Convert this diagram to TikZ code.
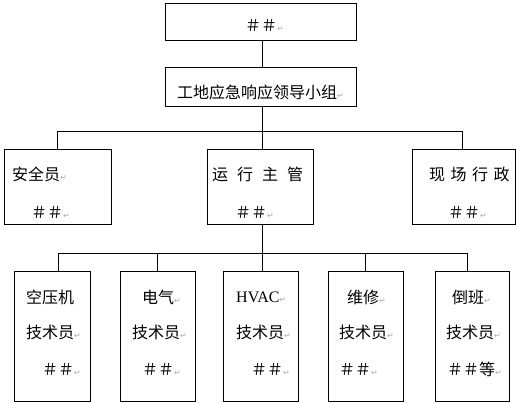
\documentclass[tikz,border=0pt]{standalone}
\usepackage{fontspec}
\setmainfont{Liberation Serif}
\newfontfamily\cjk{Noto Sans CJK SC}
\newfontfamily\symf{DejaVu Sans}
\newcommand{\parmk}{{\symf\fontsize{8}{8}\selectfont\color{gray!65}↵}}
\begin{document}
\begin{tikzpicture}[x=1pt,y=-1pt,
  box/.style={draw=black,line width=0.9pt,inner sep=0pt},
  lbl/.style={anchor=west,inner sep=0pt,font=\cjk\fontsize{16}{16}\selectfont},
  con/.style={draw=black,line width=0.9pt}]
\useasboundingbox (0,0) rectangle (516,403);
% boxes
\node[box,minimum width=191pt,minimum height=37pt] (top) at (260.5,21.5) {};
\node[box,minimum width=191pt,minimum height=39pt] (lead) at (260.5,86.5) {};
\node[box,minimum width=107pt,minimum height=75pt] (safe) at (57.5,186.5) {};
\node[box,minimum width=106pt,minimum height=75pt] (ops) at (260,186.5) {};
\node[box,minimum width=103pt,minimum height=75pt] (adm) at (463.5,186.5) {};
\node[box,minimum width=76pt,minimum height=130pt] (b1) at (52,336) {};
\node[box,minimum width=75pt,minimum height=130pt] (b2) at (157.5,336) {};
\node[box,minimum width=75pt,minimum height=130pt] (b3) at (260.5,336) {};
\node[box,minimum width=75pt,minimum height=130pt] (b4) at (365.5,336) {};
\node[box,minimum width=74pt,minimum height=130pt] (b5) at (472,336) {};
% connectors
\coordinate (bus1) at (262,131);
\coordinate (bus2) at (262,253);
\draw[con] ([xshift=1.5pt]top.south) -- ([xshift=1.5pt]lead.north);
\draw[con] ([xshift=1.5pt]lead.south) -- (bus1);
\draw[con] (safe.north) -- (safe.north |- bus1) -- ([xshift=-1.5pt]adm.north |- bus1) -- ([xshift=-1.5pt]adm.north);
\draw[con] ([xshift=2pt]ops.north) -- ([xshift=2pt]ops.north |- bus1);
\draw[con] ([xshift=2pt]ops.south) -- (bus2);
\draw[con] ([xshift=6pt]b1.north) -- ([xshift=6pt]b1.north |- bus2) -- ([xshift=-5pt]b5.north |- bus2) -- ([xshift=-5pt]b5.north);
\draw[con] (b2.north) -- (b2.north |- bus2);
\draw[con] ([xshift=1.5pt]b3.north) -- ([xshift=1.5pt]b3.north |- bus2);
\draw[con] (b4.north) -- (b4.north |- bus2);
% texts
\node[lbl] (t0) at (245,25) {＃＃\parmk};
\node[lbl] (t1) at (177,92) {工地应急响应领导小组\parmk};
\node[lbl] (s1) at (12,174) {安全员\parmk};
\node[lbl] (s2) at (31,212) {＃＃\parmk};
\node[lbl] (o1) at (212,174) {运\hspace{9pt}行\hspace{9pt}主\hspace{9pt}管};
\node[lbl] (o2) at (235,212) {＃＃\parmk};
\node[lbl] (a1) at (429,174) {现\hspace{5.5pt}场\hspace{5.5pt}行\hspace{5.5pt}政};
\node[lbl] (a2) at (448,212) {＃＃\parmk};
\node[lbl] (c1) at (26,297) {空压机};
\node[lbl] (c2) at (26,332) {技术员\parmk};
\node[lbl] (c3) at (42,369) {＃＃\parmk};
\node[lbl] (e1) at (142,297) {电气\parmk};
\node[lbl] (e2) at (132,332) {技术员\parmk};
\node[lbl] (e3) at (142,369) {＃＃\parmk};
\node[lbl] (h1) at (236,297) {{\rmfamily HVAC}\parmk};
\node[lbl] (h2) at (236,332) {技术员\parmk};
\node[lbl] (h3) at (251,369) {＃＃\parmk};
\node[lbl] (m1) at (347,297) {维修\parmk};
\node[lbl] (m2) at (339,332) {技术员\parmk};
\node[lbl] (m3) at (339,369) {＃＃\parmk};
\node[lbl] (d1) at (452,297) {倒班\parmk};
\node[lbl] (d2) at (446,332) {技术员\parmk};
\node[lbl] (d3) at (447,369) {＃＃等\parmk};
\end{tikzpicture}
\end{document}
